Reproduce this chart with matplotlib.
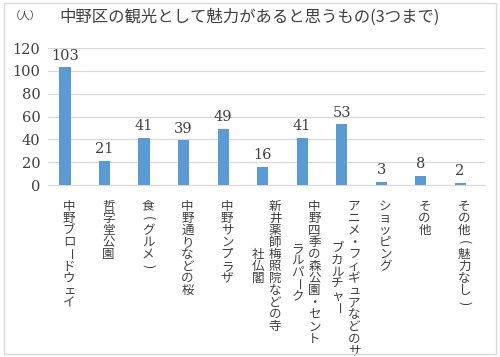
import matplotlib.pyplot as plt
from matplotlib.patches import Rectangle

# 中野区の観光として魅力があると思うもの（3つまで）
categories = ["中野ブロードウェイ", "哲学堂公園", "食(グルメ)", "中野通りなどの桜", "中野サンプラザ",
              "新井薬師梅照院などの寺\n社仏閣", "中野四季の森公園・セント\nラルパーク",
              "アニメ・フィギュアなどのサ\nブカルチャー", "ショッピング", "その他", "その他(魅力なし)"]
values = [103, 21, 41, 39, 49, 16, 41, 53, 3, 8, 2]
yticks = [0, 20, 40, 60, 80, 100, 120]

jp = "Noto Sans CJK JP"
num = "DejaVu Serif"
bar_color = "#5b9bd5"
grid_color = "#d9d9d9"

fig = plt.figure(figsize=(5, 3.57), dpi=100)
ax = fig.add_axes([48 / 500, 1 - 185 / 357, 437 / 500, 137 / 357])

x = list(range(len(values)))
ax.bar(x, values, width=0.28, color=bar_color, zorder=3)
for i, v in enumerate(values):
    ax.annotate(str(v), (i, v), xytext=(0, 3.5), textcoords="offset points",
                ha="center", va="bottom", fontsize=10.5, family=num, color="#404040")

ax.set_xlim(-0.43, 10.63)
ax.set_ylim(0, 120)
ax.set_yticks(yticks)
ax.set_yticklabels([str(t) for t in yticks], family=num, fontsize=10.5, color="#404040")
ax.tick_params(axis="y", length=0, pad=5.5)
ax.set_xticks([])
ax.grid(axis="y", color=grid_color, linewidth=0.8, zorder=0)
for s in ["left", "right", "top"]:
    ax.spines[s].set_visible(False)
ax.spines["bottom"].set_color(grid_color)
ax.spines["bottom"].set_linewidth(0.8)

# 縦書きラベル（一文字ずつ配置）
step = 8.7          # 文字送り (pt)
top = 10.8          # 軸からの距離 (pt)
col_gap = 12.2      # 行間 (pt)
rot_chars = "ー()"
for i, lab in enumerate(categories):
    cols = lab.split("\n")
    n = max(len(c) for c in cols)
    ncol = len(cols)
    for j, col in enumerate(cols):
        dx = 2.9 + ((ncol - 1) / 2 - j) * col_gap
        start = top + (n - len(col)) * step / 2
        for k, ch in enumerate(col):
            dy = -(start + k * step + step / 2)
            ax.annotate(ch, (i, 0), xycoords=("data", "axes fraction"),
                        xytext=(dx, dy), textcoords="offset points",
                        ha="center", va="center", fontsize=9, family=jp,
                        color="#404040", rotation=-90 if ch in rot_chars else 0,
                        annotation_clip=False)

fig.text(0.5, 1 - 17 / 357, "中野区の観光として魅力があると思うもの(3つまで)",
         ha="center", va="center", fontsize=11.8, family=jp, color="#404040")
fig.text(25 / 500, 1 - 17 / 357, "（人）", ha="center", va="center",
         fontsize=7.5, family=jp, color="#404040")

fig.patches.append(Rectangle((4 / 500, 3 / 357), 492 / 500, 351 / 357,
                             transform=fig.transFigure, fill=False,
                             edgecolor=grid_color, linewidth=1))

fig.savefig("out.png", dpi=100)
